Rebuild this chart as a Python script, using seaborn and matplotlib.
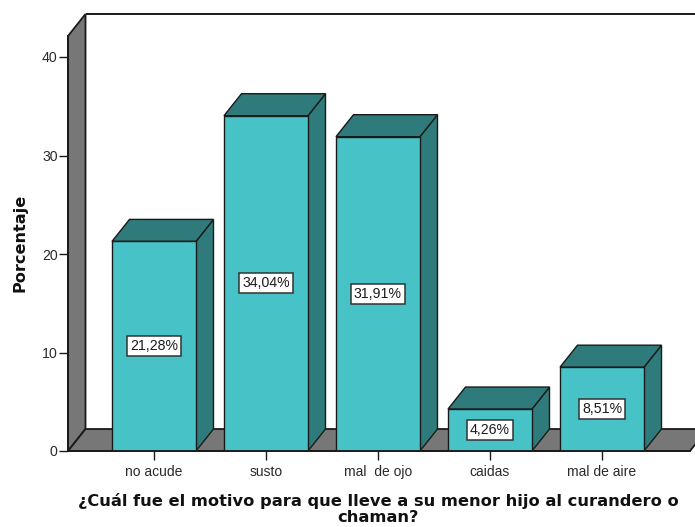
import matplotlib
matplotlib.use("Agg")
import matplotlib.pyplot as plt
from matplotlib.patches import Polygon
import pandas as pd
import seaborn as sns

motivos = ["no acude", "susto", "mal  de ojo", "caidas", "mal de aire"]
porcentajes = [21.28, 34.04, 31.91, 4.26, 8.51]
etiquetas = ["21,28%", "34,04%", "31,91%", "4,26%", "8,51%"]
yticks = [0, 10, 20, 30, 40]

FACE = "#47C2C7"
SIDE = "#2F7A7B"
WALL = "#777777"
EDGE = "#1A1A1A"

W, H = 695, 527
PX_X = 112.0      # pixels per category
PX_Y = 9.85       # pixels per percent
DX, DY = 17.5 / PX_X, 22 / PX_Y   # depth of the 3D effect in data units
BAR_W = 0.75

sns.set_theme(style="white")
plt.rcParams["font.family"] = ["Liberation Sans", "DejaVu Sans"]

fig = plt.figure(figsize=(W / 100, H / 100), dpi=100, facecolor="white")
L, R, T, B = 68, 690, 36, 451
ax = fig.add_axes([L / W, 1 - B / H, (R - L) / W, (B - T) / H])

df = pd.DataFrame({"motivo": motivos, "pct": porcentajes})
sns.barplot(data=df, x="motivo", y="pct", ax=ax, color=FACE, saturation=1,
            width=BAR_W, edgecolor=EDGE, linewidth=1.0, zorder=5, errorbar=None)

x0 = (L - 154.0) / PX_X
x1 = (R - 154.0) / PX_X
y1 = (B - T) / PX_Y
ax.set_xlim(x0, x1)
ax.set_ylim(0, y1)


def poly(pts, fc, z, lw=1.0, clip=False):
    ax.add_patch(Polygon(pts, closed=True, facecolor=fc, edgecolor=EDGE,
                         linewidth=lw, zorder=z, clip_on=clip, joinstyle="miter"))


# left wall, floor and back edges
poly([(x0, 0), (x0 + DX, DY), (x0 + DX, y1 + DY), (x0, y1)], WALL, 1, lw=1.3)
poly([(x0, 0), (x1, 0), (x1 + DX, DY), (x0 + DX, DY)], WALL, 1, lw=1.3)
ax.plot([x0 + DX, x1 + DX], [y1 + DY, y1 + DY], color=EDGE, lw=1.4,
        clip_on=False, zorder=1, solid_capstyle="butt")

# 3D sides, tops and value labels of each bar
for i, (v, t) in enumerate(zip(porcentajes, etiquetas)):
    a, b = i - BAR_W / 2, i + BAR_W / 2
    poly([(b, 0), (b + DX, DY), (b + DX, v + DY), (b, v)], SIDE, 4)
    poly([(a, v), (b, v), (b + DX, v + DY), (a + DX, v + DY)], SIDE, 4)
    ax.text(i, v / 2, t, ha="center", va="center", fontsize=10.2, color="#1A1A1A", zorder=7,
            bbox=dict(boxstyle="square,pad=0.22", facecolor="white",
                      edgecolor="#333333", linewidth=1.1))

for s in ("top", "right"):
    ax.spines[s].set_visible(False)
ax.spines["bottom"].set_visible(True)
ax.spines["left"].set_visible(True)
for s in ("bottom", "left"):
    ax.spines[s].set_color(EDGE)
    ax.spines[s].set_linewidth(1.3)
    ax.spines[s].set_zorder(6)

ax.set_yticks(yticks)
ax.set_xticks(range(len(motivos)))
ax.set_xticklabels(motivos)
ax.tick_params(axis="both", which="major", length=6.5, width=1.0, color=EDGE,
               labelsize=10.0, labelcolor="#2A2A2A", left=True, bottom=True)
ax.tick_params(axis="x", pad=3.5)
ax.tick_params(axis="y", pad=1.0, labelsize=10.2)

ax.set_xlabel("")
ax.set_ylabel("")
BOLD = ["DejaVu Sans"]
fig.text(20 / W, 1 - 243 / H, "Porcentaje", rotation=90, ha="center", va="center",
         fontsize=11.6, fontweight="bold", color="#111111", family=BOLD)
fig.text(378 / W, 1 - 501 / H, "¿Cuál fue el motivo para que lleve a su menor hijo al curandero o",
         ha="center", va="center", fontsize=11.7, fontweight="bold", color="#111111", family=BOLD)
fig.text(378 / W, 1 - 518 / H, "chaman?", ha="center", va="center",
         fontsize=11.7, fontweight="bold", color="#111111", family=BOLD)

fig.savefig("out.png", dpi=100)
